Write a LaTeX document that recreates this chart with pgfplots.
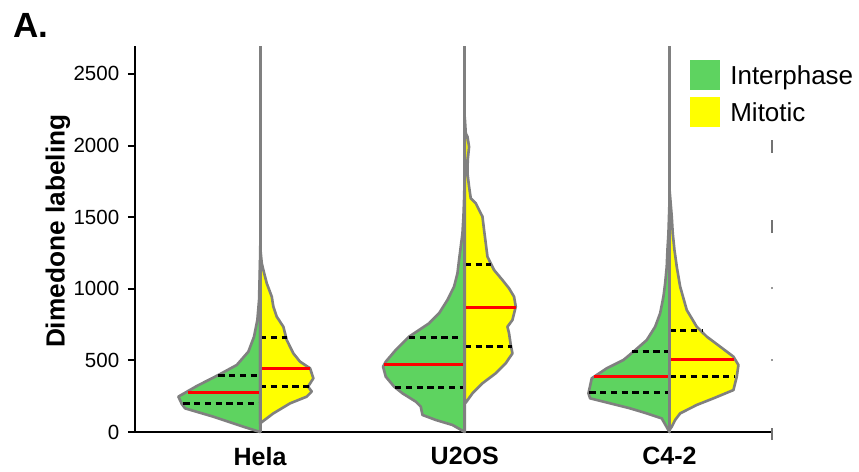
\documentclass[border=0pt]{standalone}
\usepackage{pgfplots}
\pgfplotsset{compat=1.18}
\usepackage{pgfplotstable}
\usepackage{fontspec}
\setmainfont{Liberation Sans}
\definecolor{intgreen}{RGB}{94,211,96}
\definecolor{mityellow}{RGB}{255,255,0}
\definecolor{vgray}{RGB}{128,128,128}

% half-widths w are in pixels of the reference (204.7 px = 1 category unit)
\pgfplotstableread{
v w
0 0
37 16.7
107 46.7
165 75
196 78.3
247 81.7
321 63.3
398 41.7
468 23.3
561 11.7
666 6
782 2.7
922 1
1200 0
}\helaG
\pgfplotstableread{
v w
60 0
130 13.3
200 30
247 46.7
282 51.7
317 48
375 53.3
445 50
491 40
549 33.3
642 26.7
735 23.3
805 16.7
875 13.3
945 11.7
1038 6.7
1131 3.3
1178 1.7
1300 0
}\helaY
\pgfplotstableread{
v w
0 0
49 12.3
84 29
119 42.3
177 44
212 49
270 62.3
317 70.7
386 79
456 81.7
491 79
573 69
666 55.7
712 45.7
759 35.7
829 25.7
922 17.3
1015 10.7
1108 7.3
1201 5.7
1294 4
1387 2.3
1504 1.3
1620 0.7
1800 0
}\uosG
\pgfplotstableread{
v w
200 0
205 1
270 7.7
340 17.7
410 31
480 41
549 47.7
608 46
689 44.3
735 42.7
782 47.7
875 51
945 49.3
1003 44.3
1061 37.7
1131 29.3
1224 22.7
1318 21
1411 19.3
1504 17.7
1597 11
1632 6
1713 4.3
1806 2.7
1899 3
1992 4.3
2062 2.7
2086 1
2200 0
}\uosY
\pgfplotstableread{
v w
0 0
95 7.7
130 22.7
165 39.3
200 59.3
235 79.3
270 81
375 77.7
445 62.7
503 46
561 36
642 22.7
735 14.3
829 9.3
945 6
1038 4.3
1155 2.7
1271 2
1387 1
1600 0
}\cfG
\pgfplotstableread{
v w
14 0
37 2.3
84 5.7
130 10.7
189 27.3
235 44
293 64
386 67.3
468 69
526 64
596 50.7
666 37.3
735 27.3
852 17.3
1015 10.7
1155 7.3
1271 5
1387 3.3
1504 2.3
1700 0
}\cfY

\begin{document}
\begin{tikzpicture}
\begin{axis}[
  scale only axis, width=254.8pt, height=154.4pt,
  xmin=-0.611, xmax=2.501, ymin=0, ymax=2695,
  axis x line*=bottom, axis y line*=left,
  axis line style={-, line width=1.1pt, black},
  xtick={0,1,2}, xticklabels={Hela,U2OS,C4-2},
  x tick style={draw=none},
  x tick label style={font=\fontsize{10}{12}\selectfont\bfseries, yshift=0.2pt},
  ytick={0,500,1000,1500,2000,2500},
  y tick style={line width=0.8pt, black},
  tick align=outside, major tick length=2.8pt,
  y tick label style={font=\fontsize{8.2}{9}\selectfont},
  /pgf/number format/assume math mode=true,
  /pgf/number format/1000 sep={},
  ylabel={Dimedone labeling},
  ylabel style={font=\fontsize{10.5}{12}\selectfont\bfseries, at={(axis description cs:-0.121,0.52)}, anchor=center, rotate=0},
  clip=false,
  legend image code/.code={\path[#1] (0pt,-5.5pt) rectangle (12pt,6.5pt); \path (16pt,0pt);},
  legend style={at={(axis description cs:0.871,0.964)}, anchor=north west, draw=none, fill=none, inner sep=0pt, row sep=2.8pt, font=\fontsize{10.4}{12}\selectfont, nodes={inner sep=0pt}},
  legend cell align=left,
]
\addlegendimage{fill=intgreen, draw=none}
\addlegendentry{Interphase}
\addlegendimage{fill=mityellow, draw=none}
\addlegendentry{Mitotic}

% Hela
\addplot[fill=intgreen, draw=vgray, line width=1.05pt, line join=round, forget plot] table[x expr={0-\thisrow{w}/204.7}, y=v] {\helaG} -- cycle;
\addplot[fill=mityellow, draw=vgray, line width=1.05pt, line join=round, forget plot] table[x expr={0+\thisrow{w}/204.7}, y=v] {\helaY} -- cycle;
% U2OS
\addplot[fill=intgreen, draw=vgray, line width=1.05pt, line join=round, forget plot] table[x expr={1-\thisrow{w}/204.7}, y=v] {\uosG} -- cycle;
\addplot[fill=mityellow, draw=vgray, line width=1.05pt, line join=round, forget plot] table[x expr={1+\thisrow{w}/204.7}, y=v] {\uosY} -- cycle;
% C4-2
\addplot[fill=intgreen, draw=vgray, line width=1.05pt, line join=round, forget plot] table[x expr={2-\thisrow{w}/204.7}, y=v] {\cfG} -- cycle;
\addplot[fill=mityellow, draw=vgray, line width=1.05pt, line join=round, forget plot] table[x expr={2+\thisrow{w}/204.7}, y=v] {\cfY} -- cycle;

% medians
\pgfplotsset{medl/.style={red, line width=1.2pt, forget plot}, qrt/.style={black, line width=1.2pt, dash pattern=on 2.5pt off 1.8pt, forget plot}}
\addplot[medl] coordinates {(-0.350,279) (0,279)};
\addplot[medl] coordinates {(0,445) (0.244,445)};
\addplot[medl] coordinates {(0.606,473) (1,473)};
\addplot[medl] coordinates {(1,868) (1.249,868)};
\addplot[medl] coordinates {(1.632,386) (2,386)};
\addplot[medl] coordinates {(2,508) (2.313,508)};
% quartiles
\addplot[qrt] coordinates {(-0.375,196) (0,196)};
\addplot[qrt] coordinates {(-0.204,396) (0,396)};
\addplot[qrt] coordinates {(0,315) (0.244,315)};
\addplot[qrt] coordinates {(0,658) (0.130,658)};
\addplot[qrt] coordinates {(0.660,312) (1,312)};
\addplot[qrt] coordinates {(0.728,663) (1,663)};
\addplot[qrt] coordinates {(1,600) (1.233,600)};
\addplot[qrt] coordinates {(1,1168) (1.127,1168)};
\addplot[qrt] coordinates {(1.609,277) (2,277)};
\addplot[qrt] coordinates {(1.816,559) (2,559)};
\addplot[qrt] coordinates {(2,391) (2.321,391)};
\addplot[qrt] coordinates {(2,712) (2.158,712)};

% center lines
\addplot[vgray, line width=1.2pt, forget plot] coordinates {(0,0) (0,2695)};
\addplot[vgray, line width=1.2pt, forget plot] coordinates {(1,0) (1,2695)};
\addplot[vgray, line width=1.2pt, forget plot] coordinates {(2,0) (2,2695)};

% stray right-edge marks
\addplot[black!55, line width=0.5pt, forget plot] coordinates {(2.501,1948) (2.501,2039)};
\addplot[black!55, line width=0.5pt, forget plot] coordinates {(2.501,1388) (2.501,1480)};
\addplot[black!40, line width=0.5pt, forget plot] coordinates {(2.501,995) (2.501,1010)};
\addplot[black!40, line width=0.5pt, forget plot] coordinates {(2.501,495) (2.501,510)};
\addplot[black!55, line width=0.5pt, forget plot] coordinates {(2.501,-56) (2.501,28)};

\node[anchor=base west, inner sep=0pt, font=\fontsize{14}{16}\selectfont\bfseries] at (axis description cs:-0.1915,1.0233) {A.};
\end{axis}
\pgfresetboundingbox
\path[use as bounding box] (-54pt,-15.6pt) rectangle (289.6pt,172.8pt);
\end{tikzpicture}
\end{document}
